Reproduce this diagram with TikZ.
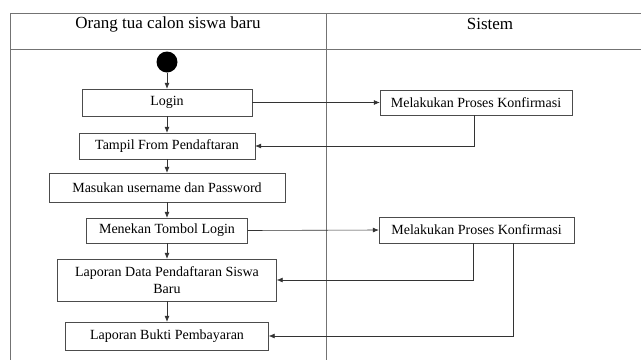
\documentclass[tikz,border=0pt]{standalone}
\usepackage{fontspec}
\setmainfont{Liberation Serif}
\usetikzlibrary{arrows.meta,calc}

\begin{document}
\begin{tikzpicture}[>={Latex[length=6pt,width=5pt]},x=1pt,y=-1pt,
    act/.style={draw=black!70,fill=white,inner sep=0pt,align=center,font=\fontsize{14}{17}\selectfont},
    lanetitle/.style={font=\fontsize{17}{20}\selectfont},
    lane/.style={draw=black!55,line width=0.8pt},
    flow/.style={->,draw=black!80,line width=0.6pt}]
      \useasboundingbox (0,0) rectangle (641,360);
      % swimlanes
      \coordinate (topleft) at (10,13);
      \coordinate (topright) at (641,13);
      \coordinate (lanesplit) at (326,13);
      \draw[lane] (topright) -- (topleft) -- (10,360);
      \draw[lane] (10,49) -- (641,49);
      \draw[lane] (lanesplit) -- (326,360);
      \node[lanetitle] (orangtua) at (168,24) {Orang tua calon siswa baru};
      \node[lanetitle] (sistem) at (490,24) {Sistem};
      % activities
      \node[circle,fill=black,minimum size=21pt,inner sep=0pt] (start) at (167,62) {};
      \node[act,minimum width=170pt,minimum height=27pt] (login) at (167,102.5) {Login};
      \node[act,minimum width=176pt,minimum height=26pt] (tampil) at (167,146) {Tampil From Pendaftaran};
      \node[act,minimum width=236pt,minimum height=29pt] (masukan) at (167,187.5) {Masukan username dan Password};
      \node[act,minimum width=161pt,minimum height=25pt] (menekan) at (167,230.5) {Menekan Tombol Login};
      \node[act,minimum width=219pt,minimum height=42pt] (lapdata) at (167,280) {Laporan Data Pendaftaran Siswa\\Baru};
      \node[act,minimum width=203pt,minimum height=28pt] (lapbukti) at (167,336) {Laporan Bukti Pembayaran};
      \node[act,minimum width=192pt,minimum height=25pt] (konfirm1) at (476,102.5) {Melakukan Proses Konfirmasi};
      \node[act,minimum width=195pt,minimum height=26pt] (konfirm2) at (476.5,230) {Melakukan Proses Konfirmasi};
      % flows
      \draw[flow] (start) -- (login);
      \draw[flow] (login) -- (tampil);
      \draw[flow] (tampil) -- (masukan);
      \draw[flow] (masukan) -- (menekan);
      \draw[flow] (menekan) -- (lapdata);
      \draw[flow] (lapdata) -- (lapbukti);
      \draw[flow] (login.east) -- (konfirm1.west);
      \draw[flow] (menekan.east) -- (konfirm2.west);
      \draw[flow] ([xshift=-2pt]konfirm1.south) |- (tampil.east);
      \draw[flow] ([xshift=-3pt]konfirm2.south) |- (lapdata.east);
      \draw[flow] ([xshift=37pt]konfirm2.south) |- (lapbukti.east);
\end{tikzpicture}
\end{document}
